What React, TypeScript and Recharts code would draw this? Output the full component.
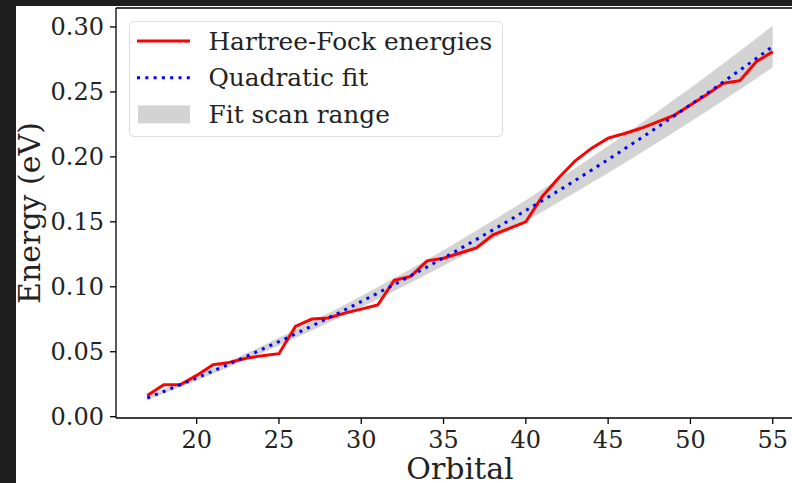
import { ComposedChart, Line, Area, XAxis, YAxis, ReferenceLine } from 'recharts'

const FONT = '"DejaVu Serif", serif'
const INK = '#222'

// orbital index 17..55
const orbitals = [
  17, 18, 19, 20, 21, 22, 23, 24, 25, 26, 27, 28, 29, 30, 31, 32, 33, 34, 35, 36,
  37, 38, 39, 40, 41, 42, 43, 44, 45, 46, 47, 48, 49, 50, 51, 52, 53, 54, 55,
]

const hfEnergies = [
  0.0164, 0.0246, 0.0246, 0.0318, 0.0400, 0.0418, 0.0450, 0.0470, 0.0485, 0.0695,
  0.0752, 0.0760, 0.0797, 0.0828, 0.0860, 0.1050, 0.1080, 0.1200, 0.1220, 0.1260,
  0.1300, 0.1400, 0.1450, 0.1500, 0.1695, 0.1840, 0.1970, 0.2067, 0.2144, 0.2180,
  0.2220, 0.2270, 0.2320, 0.2400, 0.2480, 0.2567, 0.2587, 0.2733, 0.2810,
]

const fitEnergies = [
  0.0144, 0.0194, 0.0246, 0.0298, 0.0352, 0.0407, 0.0463, 0.0520, 0.0578, 0.0637,
  0.0698, 0.0760, 0.0822, 0.0886, 0.0951, 0.1017, 0.1084, 0.1153, 0.1222, 0.1293,
  0.1365, 0.1438, 0.1512, 0.1587, 0.1663, 0.1741, 0.1819, 0.1899, 0.1980, 0.2062,
  0.2145, 0.2229, 0.2314, 0.2401, 0.2488, 0.2577, 0.2667, 0.2758, 0.2850,
]

// envelope of the scanned fits, lower / upper edge
const scanLow = [
  0.0129, 0.0178, 0.0228, 0.0278, 0.0331, 0.0384, 0.0438, 0.0493, 0.0548, 0.0605,
  0.0663, 0.0723, 0.0782, 0.0843, 0.0905, 0.0967, 0.1031, 0.1097, 0.1162, 0.1229,
  0.1297, 0.1366, 0.1436, 0.1507, 0.1578, 0.1652, 0.1725, 0.1800, 0.1876, 0.1953,
  0.2031, 0.2110, 0.2189, 0.2271, 0.2352, 0.2435, 0.2519, 0.2604, 0.2690,
]

const scanHigh = [
  0.0159, 0.0210, 0.0264, 0.0318, 0.0373, 0.0430, 0.0488, 0.0547, 0.0608, 0.0669,
  0.0733, 0.0797, 0.0862, 0.0929, 0.0997, 0.1067, 0.1137, 0.1209, 0.1282, 0.1357,
  0.1433, 0.1510, 0.1588, 0.1667, 0.1748, 0.1830, 0.1913, 0.1998, 0.2084, 0.2171,
  0.2259, 0.2348, 0.2439, 0.2531, 0.2624, 0.2719, 0.2815, 0.2912, 0.3010,
]

const xTicks = [20, 25, 30, 35, 40, 45, 50, 55]
const yTicks = [0, 0.05, 0.1, 0.15, 0.2, 0.25, 0.3]
const X_DOMAIN = [15.1, 56.9]
const Y_DOMAIN = [-0.001, 0.3146]

const legendItems = [
  { name: 'Hartree-Fock energies', kind: 'line' },
  { name: 'Quadratic fit', kind: 'dots' },
  { name: 'Fit scan range', kind: 'patch' },
]

const data = orbitals.map((n, i) => ({
  orbital: n,
  hf: hfEnergies[i],
  fit: fitEnergies[i],
  scan: [scanLow[i], scanHigh[i]],
}))

function YLabel({ viewBox }: any) {
  const x = viewBox.x + 23.5
  const y = viewBox.y + viewBox.height / 2
  return (
    <text x={x} y={y} transform={`rotate(-90, ${x}, ${y})`} textAnchor="middle"
      style={{ fontSize: 30, fontFamily: FONT, fill: INK }}>
      Energy (eV)
    </text>
  )
}

function XLabel({ viewBox }: any) {
  return (
    <text x={viewBox.x + viewBox.width / 2} y={viewBox.y + 61} textAnchor="middle"
      style={{ fontSize: 30, fontFamily: FONT, fill: INK }}>
      Orbital
    </text>
  )
}

function LegendBox() {
  return (
    <svg width={376} height={118} style={{ position: 'absolute', left: 129, top: 21 }}>
      <rect x={0.5} y={0.5} width={373} height={115} rx={4} fill="#fff" fillOpacity={0.85} stroke="#dddddd" />
      {legendItems.map((it, i) => {
        const cy = 20 + i * 36.7
        return (
          <g key={it.name}>
            {it.kind === 'line' && <line x1={8} x2={61} y1={cy} y2={cy} stroke="#ff0000" strokeWidth={3} />}
            {it.kind === 'dots' && <line x1={8} x2={61} y1={cy} y2={cy} stroke="#0000ff" strokeWidth={3} strokeDasharray="3 5.3" />}
            {it.kind === 'patch' && <rect x={9} y={cy - 9} width={52} height={18} fill="#d3d3d3" />}
            <text x={79.5} y={cy + 8.5} style={{ fontSize: 24.8, fontFamily: FONT, fill: INK }}>{it.name}</text>
          </g>
        )
      })}
    </svg>
  )
}

export default function App() {
  return (
    <div style={{ position: 'fixed', left: 0, top: 0, width: 792, height: 483, background: '#1f1f1f', overflow: 'hidden' }}>
      <div style={{ position: 'absolute', left: 16, top: 6, width: 800, height: 480, background: '#fff' }} />
      <div style={{ position: 'absolute', left: 0, top: 0 }}>
        <ComposedChart width={900} height={483} data={data}
          margin={{ top: 8, right: 96, bottom: 0, left: 16 }}>
          <XAxis dataKey="orbital" type="number" domain={X_DOMAIN} ticks={xTicks}
            allowDataOverflow height={65} tickSize={6} tickMargin={7}
            stroke="#000" axisLine={{ stroke: '#000', strokeWidth: 1.3 }}
            tickLine={{ stroke: '#000', strokeWidth: 1.3 }}
            tick={{ fontSize: 24, fontFamily: FONT, fill: INK }}
            label={<XLabel />} />
          <YAxis type="number" domain={Y_DOMAIN} ticks={yTicks} allowDataOverflow
            width={100} tickSize={6} tickMargin={6}
            tickFormatter={(v: number) => v.toFixed(2)}
            axisLine={{ stroke: '#000', strokeWidth: 1.3 }}
            tickLine={{ stroke: '#000', strokeWidth: 1.3 }}
            tick={{ fontSize: 24, fontFamily: FONT, fill: INK }}
            label={<YLabel />} />
          <ReferenceLine y={Y_DOMAIN[1]} stroke="#000" strokeWidth={1.3} />
          <Area dataKey="scan" type="linear" fill="#d3d3d3" fillOpacity={1} stroke="none"
            isAnimationActive={false} />
          <Line dataKey="hf" type="linear" stroke="#ff0000" strokeWidth={3} dot={false}
            isAnimationActive={false} />
          <Line dataKey="fit" type="linear" stroke="#0000ff" strokeWidth={3} dot={false}
            strokeDasharray="3 5.3" isAnimationActive={false} />
        </ComposedChart>
      </div>
      <LegendBox />
    </div>
  )
}
